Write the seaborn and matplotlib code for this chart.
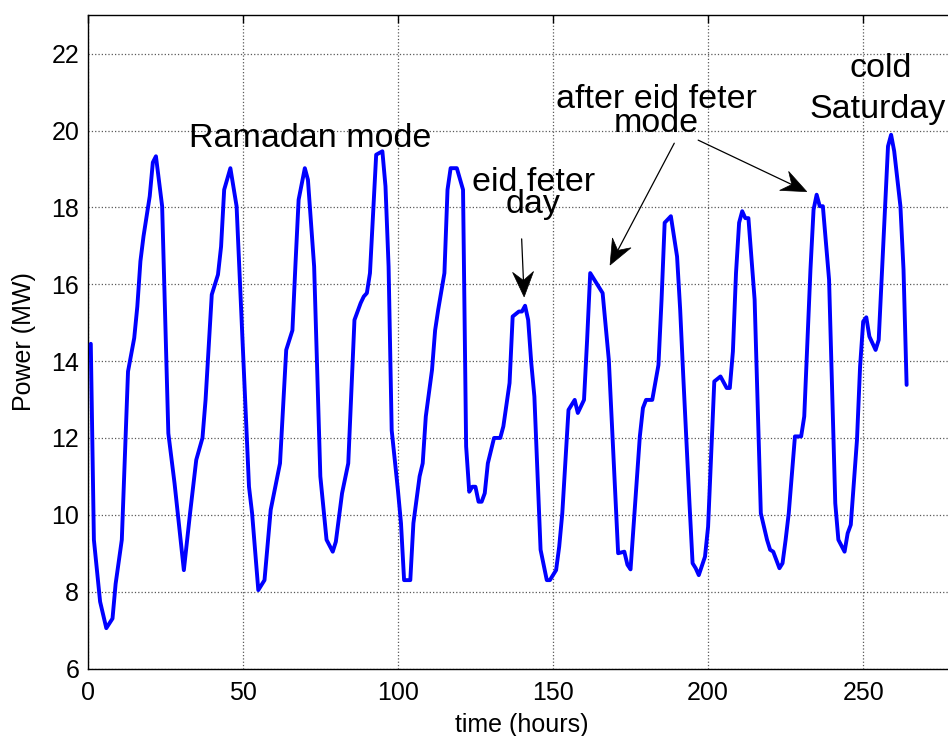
import matplotlib
matplotlib.use("Agg")
import numpy as np
import pandas as pd
import seaborn as sns
import matplotlib.pyplot as plt
from matplotlib.patches import Polygon
from matplotlib.transforms import IdentityTransform

# Hourly feeder load over eleven days (hour index, MW)
hours = [
    1, 2, 4, 6, 8, 9, 11, 13, 15, 16, 17, 18, 20, 21, 22, 23, 24, 26, 28, 31,
    33, 35, 37, 38, 40, 42, 43, 44, 46, 48, 52, 53, 55, 57, 59, 62, 64, 66, 67, 68,
    70, 71, 73, 75, 77, 79, 80, 82, 84, 86, 88, 89, 90, 91, 93, 95, 96, 97, 98, 100,
    101, 102, 104, 105, 107, 108, 109, 111, 112, 113, 115, 116, 117, 119, 121, 122, 123, 124, 125, 126,
    127, 128, 129, 131, 133, 134, 136, 137, 139, 140, 141, 142, 143, 144, 146, 148, 149, 151, 152, 153,
    155, 157, 158, 160, 161, 162, 164, 166, 168, 171, 173, 174, 175, 178, 179, 180, 182, 184, 185, 186,
    188, 190, 191, 192, 194, 195, 196, 197, 199, 200, 202, 204, 206, 207, 208, 209, 210, 211, 212, 213,
    215, 217, 219, 220, 221, 223, 224, 225, 226, 228, 230, 231, 233, 234, 235, 236, 237, 239, 241, 242,
    244, 245, 246, 248, 249, 250, 251, 252, 254, 255, 258, 259, 260, 262, 263, 264,
]
power = [
    14.45, 9.35, 7.74, 7.05, 7.30, 8.20, 9.35, 13.73, 14.60, 15.42, 16.60, 17.25, 18.29, 19.17, 19.33, 18.68, 18.03, 12.12, 10.82, 8.56,
    10.04, 11.43, 12.00, 12.99, 15.73, 16.25, 16.98, 18.46, 19.02, 18.03, 10.73, 10.04, 8.04, 8.30, 10.13, 11.34, 14.29, 14.80, 16.55, 18.20,
    19.02, 18.72, 16.46, 11.00, 9.35, 9.04, 9.30, 10.56, 11.34, 15.07, 15.51, 15.68, 15.77, 16.29, 19.37, 19.46, 18.55, 16.46, 12.20, 10.65,
    9.78, 8.30, 8.30, 9.78, 11.00, 11.34, 12.56, 13.77, 14.80, 15.34, 16.29, 18.46, 19.02, 19.02, 18.46, 11.78, 10.60, 10.73, 10.73, 10.34,
    10.34, 10.56, 11.34, 12.00, 12.00, 12.30, 13.43, 15.16, 15.29, 15.29, 15.44, 15.07, 13.95, 13.08, 9.09, 8.30, 8.30, 8.56, 9.17, 10.04,
    12.73, 12.99, 12.65, 12.99, 14.55, 16.29, 16.03, 15.77, 14.03, 9.00, 9.04, 8.70, 8.58, 12.04, 12.78, 12.99, 12.99, 13.90, 15.60, 17.60,
    17.77, 16.72, 15.34, 13.60, 10.30, 8.74, 8.61, 8.43, 8.91, 9.69, 13.47, 13.60, 13.30, 13.30, 14.25, 16.29, 17.60, 17.90, 17.72, 17.72,
    15.60, 10.04, 9.35, 9.09, 9.04, 8.61, 8.74, 9.35, 10.04, 12.04, 12.04, 12.56, 16.38, 17.94, 18.33, 18.03, 18.03, 16.12, 10.30, 9.35,
    9.04, 9.52, 9.74, 11.95, 13.86, 15.03, 15.14, 14.64, 14.29, 14.55, 19.59, 19.89, 19.46, 18.03, 16.38, 13.38,
]

x_ticks = [0, 50, 100, 150, 200, 250]
y_ticks = [6, 8, 10, 12, 14, 16, 18, 20, 22]

# text labels: (text, x, y of last baseline, horizontal alignment, line spacing)
labels = [
    ("Ramadan mode", 71.7, 19.57, "center", 1.0),
    ("eid feter\nday", 143.6, 17.85, "center", 0.64),
    ("after eid feter\nmode", 183.3, 19.96, "center", 0.72),
    ("cold", 255.7, 21.39, "center", 1.0),
    ("Saturday", 232.8, 20.33, "left", 1.0),
]
# arrows: (tail x, tail y, tip x, tip y)
arrows = [
    (139.9, 17.18, 140.7, 15.67),
    (189.1, 19.67, 168.4, 16.50),
    (196.8, 19.75, 231.8, 18.41),
]

sns.set_style("white")
plt.rcParams["font.family"] = ["Liberation Sans", "DejaVu Sans"]
plt.rcParams["text.color"] = "black"
plt.rcParams["axes.labelcolor"] = "black"
plt.rcParams["xtick.color"] = "black"
plt.rcParams["ytick.color"] = "black"

fig = plt.figure(figsize=(9.48, 7.36), dpi=100)
ax = fig.add_axes([0.0925, 0.0917, 0.9162, 0.8876])

df = pd.DataFrame({"time (hours)": hours, "Power (MW)": power})
sns.lineplot(data=df, x="time (hours)", y="Power (MW)", color=(0, 0, 1),
             linewidth=2.8, ax=ax, zorder=3)

ax.set_xlim(0, 280)
ax.set_ylim(6, 23)
ax.set_xticks(x_ticks)
ax.set_yticks(y_ticks)
ax.tick_params(axis="both", direction="in", length=6, width=1, colors="black",
               labelcolor="black", top=True, right=True, labelsize=18)
ax.tick_params(axis="x", pad=9)
ax.tick_params(axis="y", pad=6)
ax.grid(True, linestyle=":", color="0.35", linewidth=0.9)
for sp in ax.spines.values():
    sp.set_color("black")
    sp.set_linewidth(1.0)

ax.set_xlabel("time (hours)", fontsize=18, labelpad=6, color="black")
ax.set_ylabel("Power (MW)", fontsize=18, labelpad=11, color="black")

for txt, x, y, ha, ls in labels:
    ax.text(x, y, txt, fontsize=24.5, ha=ha, multialignment="center",
            va="baseline", linespacing=ls, color="black", clip_on=False, zorder=5)

# thin arrow shafts with swept-back filled heads, built in pixel space
head_len, head_w, notch = 25.0, 21.0, 0.66
for x0, y0, x1, y1 in arrows:
    p0 = ax.transData.transform((x0, y0))
    p1 = ax.transData.transform((x1, y1))
    d = (p1 - p0) / np.hypot(*(p1 - p0))
    n = np.array([-d[1], d[0]])
    neck = p1 - notch * head_len * d
    ax.plot([p0[0], neck[0]], [p0[1], neck[1]], color="black", linewidth=0.9,
            transform=IdentityTransform(), zorder=6, clip_on=False)
    head = np.array([
        p1,
        p1 - head_len * d + 0.5 * head_w * n,
        neck,
        p1 - head_len * d - 0.5 * head_w * n,
    ])
    ax.add_patch(Polygon(head, closed=True, facecolor="black", edgecolor="black",
                         linewidth=0.5, transform=IdentityTransform(), zorder=6,
                         clip_on=False))

fig.savefig("out.png", dpi=100)
